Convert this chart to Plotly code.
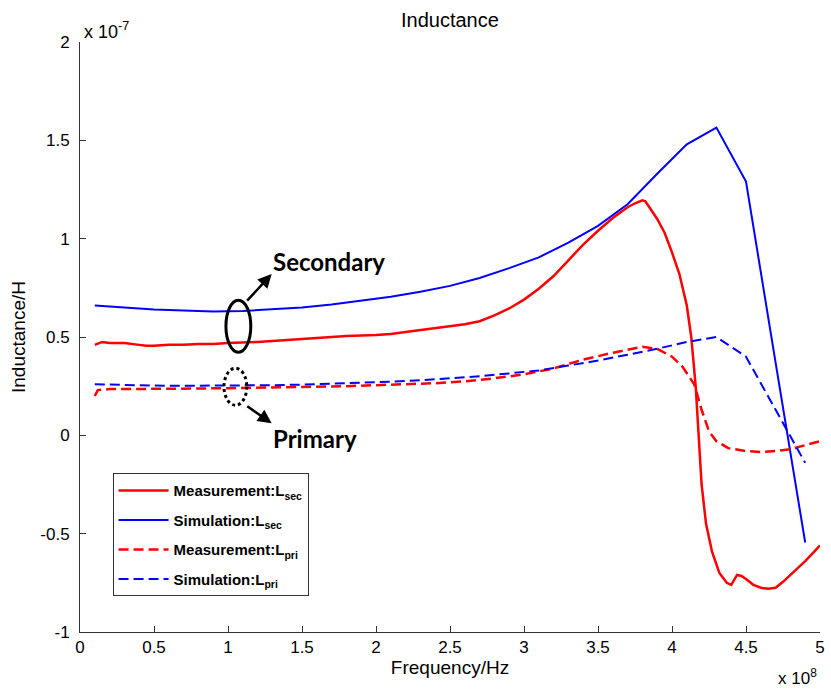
import plotly.graph_objects as go

# Frequency in units of 1e8 Hz, inductance in units of 1e-7 H
sim_freq = [0.1, 0.3, 0.5, 0.7, 0.9, 1.1, 1.3, 1.5, 1.7, 1.9, 2.1, 2.3, 2.5,
            2.7, 2.9, 3.1, 3.3, 3.5, 3.7, 3.9, 4.1, 4.3, 4.5, 4.7, 4.9]
sim_lsec = [0.66, 0.65, 0.64, 0.635, 0.63, 0.632, 0.64, 0.65, 0.665, 0.685,
            0.705, 0.73, 0.76, 0.80, 0.85, 0.905, 0.98, 1.065, 1.175, 1.33,
            1.48, 1.565, 1.29, 0.37, -0.545]
sim_lpri = [0.26, 0.255, 0.253, 0.252, 0.252, 0.253, 0.255, 0.258, 0.262,
            0.267, 0.273, 0.28, 0.29, 0.30, 0.315, 0.33, 0.355, 0.38, 0.41,
            0.44, 0.475, 0.50, 0.40, 0.13, -0.14]

meas_sec_freq = [0.1, 0.15, 0.2, 0.3, 0.4, 0.45, 0.5, 0.6, 0.7, 0.8, 0.9, 1.0,
                 1.2, 1.4, 1.6, 1.8, 2.0, 2.1, 2.2, 2.4, 2.6, 2.7, 2.8, 2.9,
                 3.0, 3.1, 3.2, 3.3, 3.4, 3.5, 3.6, 3.7, 3.75, 3.8, 3.82, 3.9,
                 3.95, 4.0, 4.05, 4.1, 4.13, 4.16, 4.18, 4.2, 4.23, 4.27, 4.32,
                 4.37, 4.4, 4.44, 4.47, 4.5, 4.55, 4.6, 4.65, 4.7, 4.75, 4.8,
                 4.85, 4.9, 4.95, 5.0]
meas_lsec = [0.46, 0.475, 0.47, 0.47, 0.46, 0.455, 0.455, 0.46, 0.46, 0.465,
             0.465, 0.47, 0.475, 0.485, 0.495, 0.505, 0.51, 0.515, 0.525,
             0.545, 0.565, 0.58, 0.61, 0.645, 0.69, 0.745, 0.81, 0.89, 0.97,
             1.04, 1.105, 1.16, 1.18, 1.195, 1.19, 1.10, 1.03, 0.93, 0.82,
             0.66, 0.50, 0.25, 0.0, -0.25, -0.45, -0.59, -0.70, -0.75, -0.76,
             -0.71, -0.715, -0.73, -0.76, -0.775, -0.78, -0.775, -0.745,
             -0.71, -0.68, -0.64, -0.60, -0.56]

meas_pri_freq = [0.1, 0.12, 0.2, 0.4, 0.6, 0.8, 1.0, 1.2, 1.4, 1.6, 1.8, 2.0,
                 2.2, 2.4, 2.6, 2.8, 3.0, 3.2, 3.4, 3.6, 3.8, 3.9, 4.0, 4.07,
                 4.15, 4.2, 4.25, 4.3, 4.38, 4.5, 4.6, 4.7, 4.8, 4.9, 5.0]
meas_lpri = [0.20, 0.23, 0.235, 0.235, 0.237, 0.238, 0.24, 0.242, 0.244,
             0.247, 0.25, 0.255, 0.26, 0.265, 0.275, 0.29, 0.31, 0.34, 0.385,
             0.42, 0.45, 0.44, 0.40, 0.35, 0.26, 0.13, 0.02, -0.03, -0.065,
             -0.08, -0.085, -0.08, -0.07, -0.05, -0.03]

x_ticks = [0, 0.5, 1, 1.5, 2, 2.5, 3, 3.5, 4, 4.5, 5]
y_ticks = [-1, -0.5, 0, 0.5, 1, 1.5, 2]

RED = "#ff0000"
BLUE = "#0000ff"
DASH = "10px,5px"
FONT = "Liberation Sans, Arial, sans-serif"

series = [
    (meas_sec_freq, meas_lsec, "Measurement:L<sub>sec</sub>", RED, 2.5, "solid"),
    (sim_freq, sim_lsec, "Simulation:L<sub>sec</sub>", BLUE, 2, "solid"),
    (meas_pri_freq, meas_lpri, "Measurement:L<sub>pri</sub>", RED, 2.5, DASH),
    (sim_freq, sim_lpri, "Simulation:L<sub>pri</sub>", BLUE, 2, DASH),
]

fig = go.Figure()
for i, (xs, ys, label, color, width, dash) in enumerate(series):
    fig.add_trace(go.Scatter(x=xs, y=ys, mode="lines",
                             name=f"<b>{label}</b>", legendgroup=f"g{i}",
                             line=dict(color=color, width=width, dash=dash)))

axis_common = dict(showline=True, linecolor="#333333", linewidth=1,
                   mirror=False, showgrid=False, zeroline=False,
                   ticks="inside", ticklen=6, tickcolor="#333333",
                   tickfont=dict(family=FONT, size=17, color="black"))

fig.update_layout(
    width=831, height=692,
    margin=dict(l=80, r=6, t=42, b=60),
    paper_bgcolor="white", plot_bgcolor="white",
    font=dict(family=FONT, color="black"),
    xaxis=dict(range=[0, 5], tickvals=x_ticks,
               ticktext=[f"{v:g}" for v in x_ticks],
               title=dict(text="Frequency/Hz", font=dict(size=19), standoff=2),
               **axis_common),
    yaxis=dict(range=[-1, 2], tickvals=y_ticks,
               ticktext=[f"{v:g}" for v in y_ticks],
               ticklabelstandoff=6,
               title=dict(text="Inductance/H", font=dict(size=19), standoff=9),
               **axis_common),
    legend=dict(x=0.044, y=0.269, xanchor="left", yanchor="top",
                bordercolor="#333333", borderwidth=1, bgcolor="white",
                font=dict(family=FONT, size=15, color="black"),
                itemwidth=50, tracegroupgap=7),
    showlegend=True,
)

# Title and axis multipliers
fig.add_annotation(text="Inductance", xref="paper", yref="paper",
                   x=0.5, y=1 + 22 / 590, xanchor="center", yanchor="middle",
                   showarrow=False, font=dict(family=FONT, size=20))
fig.add_annotation(text="x 10<sup>-7</sup>", xref="paper", yref="paper",
                   x=2 / 745, y=1 + 12 / 590, xanchor="left", yanchor="middle",
                   showarrow=False, font=dict(family=FONT, size=18))
fig.add_annotation(text="x 10<sup>8</sup>", xref="paper", yref="paper",
                   x=0.998, y=-45 / 590, xanchor="right", yanchor="middle",
                   showarrow=False, font=dict(family=FONT, size=17))

# Ellipses marking the secondary and primary curves
fig.add_shape(type="circle", xref="x", yref="y",
              x0=0.986, x1=1.154, y0=0.4225, y1=0.6875,
              line=dict(color="black", width=3))
fig.add_shape(type="circle", xref="x", yref="y",
              x0=0.973, x1=1.127, y0=0.153, y1=0.341,
              line=dict(color="black", width=3, dash="dot"))

# Arrows and labels
LABEL_FONT = dict(family="Lato, Open Sans, sans-serif", size=24, color="black")
fig.add_annotation(x=1.295, y=0.82, ax=1.12, ay=0.677, xref="x", yref="y",
                   axref="x", ayref="y", text="", showarrow=True,
                   arrowhead=2, arrowsize=1.1, arrowwidth=2.5,
                   arrowcolor="black")
fig.add_annotation(x=1.295, y=0.061, ax=1.12, ay=0.153, xref="x", yref="y",
                   axref="x", ayref="y", text="", showarrow=True,
                   arrowhead=2, arrowsize=1.1, arrowwidth=2.5,
                   arrowcolor="black")
fig.add_annotation(text="<b>Secondary</b>", x=1.289, y=0.885, xref="x",
                   yref="y", xanchor="left", yanchor="middle",
                   showarrow=False, font=LABEL_FONT)
fig.add_annotation(text="<b>Primary</b>", x=1.289, y=-0.015, xref="x",
                   yref="y", xanchor="left", yanchor="middle",
                   showarrow=False, font=LABEL_FONT)

fig.write_html("out.html")
